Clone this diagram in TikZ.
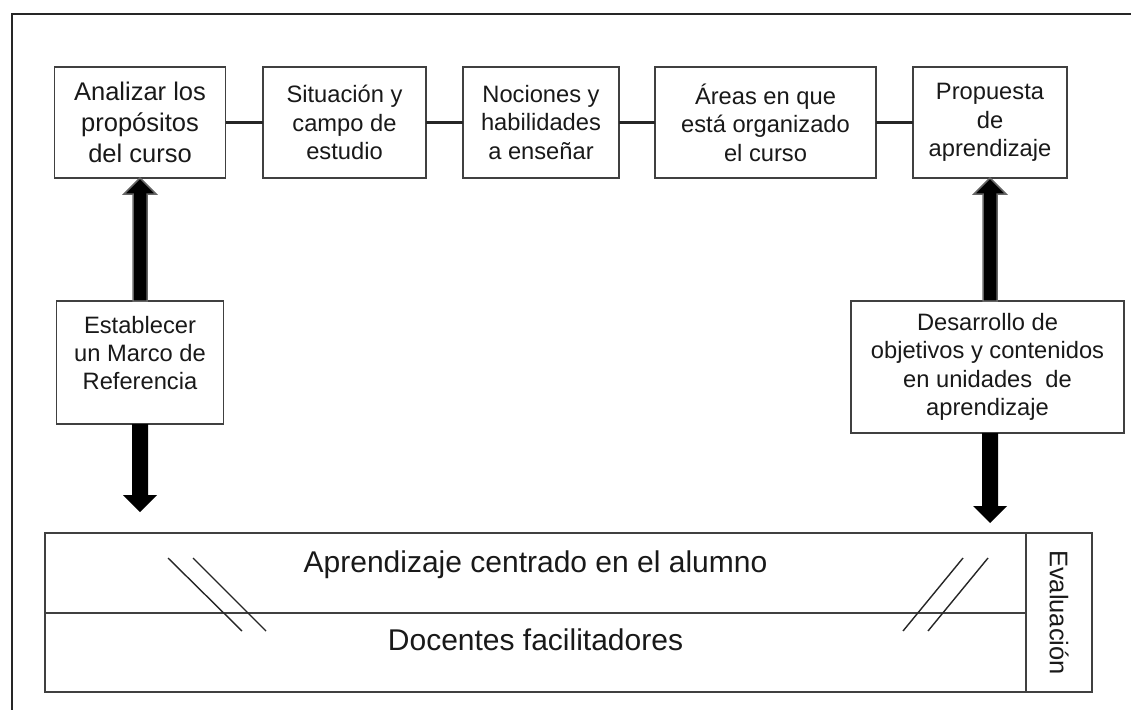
\documentclass[tikz,border=0pt]{standalone}
\usepackage{fontspec}
\setmainfont{Liberation Sans}
\usetikzlibrary{calc}
\newcommand\fsA{\fontsize{23.7}{28.4}\selectfont}
\newcommand\fsB{\fontsize{25.5}{30.7}\selectfont}
\newcommand\fsC{\fontsize{30}{36}\selectfont}
\begin{document}
\begin{tikzpicture}[x=1pt,y=-1pt,line join=miter,
  box/.style={draw=black!75, line width=1.3pt, fill=white, align=center,
    inner sep=0pt, outer sep=0pt, text=black!90, font=\fsA},
  txt/.style={align=center, text=black!90, font=\fsA, inner sep=0pt},
  conn/.style={line width=2.5pt, draw=black!85},
  uparr/.style={fill=black, draw=black!60, line width=1.5pt},
  downarr/.style={fill=black},
  slash/.style={line width=1.4pt, draw=black!85},
  frame/.style={line width=2.5pt, draw=black!85}]
\useasboundingbox (0,0) rectangle (1131,709);
% outer frame (top and left only)
\draw[frame] (12,712) -- (12,14) -- (1134,14);

% top row
\node[box, minimum width=171, minimum height=111, font=\fsB] (b1) at (140,122.5) {Analizar los\\propósitos\\del curso};
\node[box, minimum width=163, minimum height=111] (b2) at (344.5,122.5) {Situación y\\campo de\\estudio};
\node[box, minimum width=156, minimum height=111] (b3) at (541,122.5) {Nociones y\\habilidades\\a enseñar};
\node[box, minimum width=221, minimum height=111] (b4) at (765.5,122.5) {Áreas en que\\está organizado\\el curso};
\node[box, minimum width=154, minimum height=111] (b5) at (990,122.5) {Propuesta\\de\\aprendizaje};
\draw[conn] (b1) -- (b2);
\draw[conn] (b2) -- (b3);
\draw[conn] (b3) -- (b4);
\draw[conn] (b4) -- (b5);

% middle boxes
\node[box, minimum width=167, minimum height=123] (est) at (140,362.5) {};
\node[txt] (estt) at (140,353) {Establecer\\un Marco de\\Referencia};
\node[box, minimum width=273, minimum height=132] (des) at (987.5,367) {Desarrollo de\\objetivos y contenidos\\en unidades\ \ de\\aprendizaje};

% bottom block
\node[box, minimum width=981, minimum height=80, line width=1.6pt] (r1) at (535.5,573) {};
\node[box, minimum width=981, minimum height=79, line width=1.6pt] (r2) at (535.5,652.5) {};
\node[box, minimum width=66, minimum height=159, line width=1.6pt] (ev) at (1059,612.5) {};
\node[txt, font=\fsB, rotate=-90] (evt) at (ev.center) {Evaluación};
\node[txt, font=\fsC, anchor=base] (t1) at (535.5,572) {Aprendizaje centrado en el alumno};
\node[txt, font=\fsC, anchor=base] (t2) at (535.5,650) {Docentes facilitadores};

% slashes
\draw[slash] (168,558) -- (242,631);
\draw[slash] (193,558) -- (266,631);
\draw[slash] (963,558) -- (903,631);
\draw[slash] (988,558) -- (928,631);

% coordinates for arrows
\coordinate (ur) at (b5.south |- des.north);
\coordinate (drs) at (b5.south |- des.south);
\coordinate (dl) at (140,512);
\coordinate (dr) at (990,523);

% up arrows
\filldraw[uparr] ($(est.north)+(-7,0)$) -- ($(b1.south)+(-7,16)$) -- ($(b1.south)+(-16,16)$) -- (b1.south)
  -- ($(b1.south)+(16,16)$) -- ($(b1.south)+(7,16)$) -- ($(est.north)+(7,0)$) -- cycle;
\filldraw[uparr] ($(ur)+(-7,0)$) -- ($(b5.south)+(-7,16)$) -- ($(b5.south)+(-16,16)$) -- (b5.south)
  -- ($(b5.south)+(16,16)$) -- ($(b5.south)+(7,16)$) -- ($(ur)+(7,0)$) -- cycle;

% down arrows
\fill[downarr] ($(est.south)+(-8,0)$) -- ($(dl)+(-8,-17)$) -- ($(dl)+(-17,-17)$) -- (dl)
  -- ($(dl)+(17,-17)$) -- ($(dl)+(8,-17)$) -- ($(est.south)+(8,0)$) -- cycle;
\fill[downarr] ($(drs)+(-8,0)$) -- ($(dr)+(-8,-17)$) -- ($(dr)+(-17,-17)$) -- (dr)
  -- ($(dr)+(17,-17)$) -- ($(dr)+(8,-17)$) -- ($(drs)+(8,0)$) -- cycle;
\end{tikzpicture}
\end{document}
